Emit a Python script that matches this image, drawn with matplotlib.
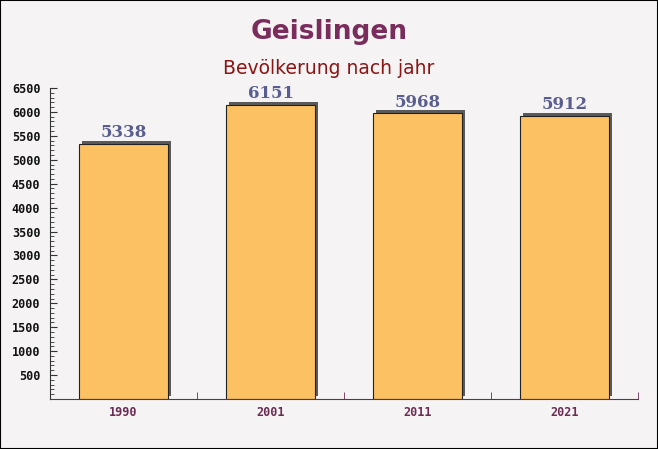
import matplotlib.pyplot as plt
import matplotlib.patheffects as pe
from matplotlib.ticker import MultipleLocator

# Data
years = ["1990", "2001", "2011", "2021"]
population = [5338, 6151, 5968, 5912]

bg = "#f5f3f4"

fig = plt.figure(figsize=(6.58, 4.49), dpi=100, facecolor=bg)
ax = fig.add_axes([0.076, 0.1114, 0.8936, 0.6926])
ax.set_facecolor("none")

x = range(len(years))
bars = ax.bar(
    x, population, width=0.6,
    color="#fbc163", edgecolor="#222222", linewidth=0.8,
    path_effects=[pe.SimplePatchShadow(offset=(2.2, 2.2), shadow_rgbFace="#5a5a5a", alpha=1.0), pe.Normal()],
)

for xi, v in zip(x, population):
    ax.annotate(str(v), (xi, v), xytext=(0, 2), textcoords="offset points",
                ha="center", va="bottom", fontsize=12, fontweight="bold",
                family="DejaVu Serif", color="#5a5e8e")

ax.set_xlim(-0.5, len(years) - 0.5)
ax.set_ylim(0, 6500)
ax.set_xticks(list(x))
ax.set_xticklabels(years)
ax.set_xticks([i + 0.5 for i in x], minor=True)
ax.yaxis.set_major_locator(MultipleLocator(500))
ax.yaxis.set_minor_locator(MultipleLocator(100))
ax.set_yticks(range(500, 6501, 500))

ax.tick_params(axis="x", which="major", length=0, pad=5, labelsize=8.5, labelcolor="#6b2c52")
ax.tick_params(axis="x", which="minor", length=5, direction="in", color="#6b2c52")
ax.tick_params(axis="y", which="major", length=5, direction="in", pad=7, color="#333333",
               labelsize=8.5, labelcolor="#111111")
ax.tick_params(axis="y", which="minor", length=3, direction="in", color="#333333")
for lab in ax.get_xticklabels() + ax.get_yticklabels():
    lab.set_family("DejaVu Sans Mono")
    lab.set_fontweight("bold")

for s in ["top", "right"]:
    ax.spines[s].set_visible(False)
ax.spines["left"].set_color("#333333")
ax.spines["bottom"].set_color("#6b2c52")

fig.text(0.5, 0.928, "Geislingen", ha="center", va="center", fontsize=19,
         fontweight="bold", color="#7a2c5c")
fig.text(0.5, 0.848, "Bevölkerung nach jahr", ha="center", va="center",
         fontsize=13.5, color="#8b1414")

fig.patches.append(plt.Rectangle((0, 0), 1, 1, transform=fig.transFigure,
                                 fill=False, edgecolor="black", linewidth=1.5))

fig.savefig("out.png", dpi=100, facecolor=bg)
